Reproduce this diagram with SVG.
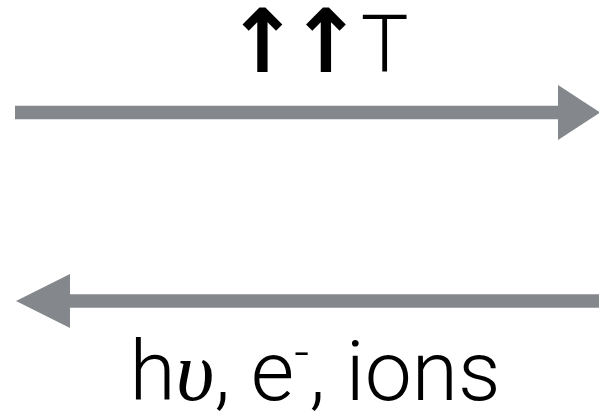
<svg xmlns="http://www.w3.org/2000/svg" width="599" height="416" viewBox="0 0 599 416">
<style>
.ln{stroke:#84878b;stroke-width:13.5;fill:none}
.hd{fill:#84878b}
.lbl{font-family:"Roboto","Liberation Sans",Arial,sans-serif;font-weight:300;font-size:80px;fill:#000}
.ar{font-family:"DejaVu Sans",sans-serif;font-weight:bold}
</style>
<rect width="599" height="416" fill="#fff"/>
<g id="connectors">
<g id="forward">
<line class="ln" x1="15" y1="112.5" x2="560" y2="112.5"/>
<polygon class="hd" points="558,85 600,112.5 558,140"/>
</g>
<g id="backward">
<line class="ln" x1="68" y1="301" x2="599" y2="301"/>
<polygon class="hd" points="70,274 16,301 70,328"/>
</g>
</g>
<g id="top-label">
<text class="lbl" x="317" y="72" text-anchor="middle"><tspan class="ar" font-size="88" letter-spacing="-10">↑↑</tspan><tspan dx="8">T</tspan></text>
</g>
<g id="bottom-label">
<text class="lbl" x="315" y="400" text-anchor="middle" style="font-size:84px">h<tspan font-family="'Liberation Serif',serif" font-weight="normal" font-style="italic">υ</tspan>, e<tspan baseline-shift="super" style="font-size:52px">-</tspan>, ions</text>
</g>
</svg>
